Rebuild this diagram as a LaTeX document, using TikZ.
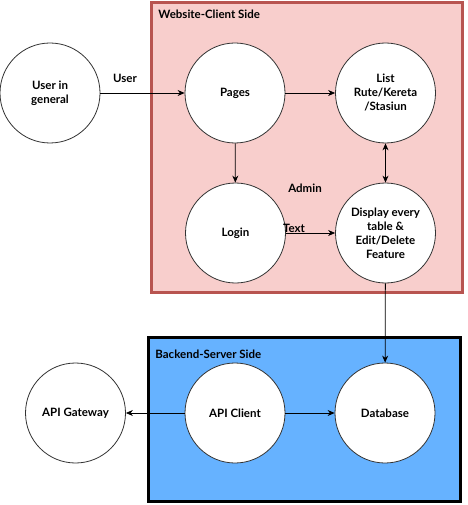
\documentclass[tikz,border=0pt]{standalone}
\usepackage{fontspec}
\setmainfont{Lato}
\usepackage{xcolor}
\usetikzlibrary{arrows.meta}
\definecolor{clientfill}{HTML}{F8CECC}
\definecolor{clientline}{HTML}{B85450}
\definecolor{serverfill}{HTML}{66B2FF}

\begin{document}
\begin{tikzpicture}[x=1pt, y=-1pt, line width=0.8pt, >={Stealth[length=7pt,width=6pt]},
    proc/.style={circle, draw=black!80, fill=white, minimum size=100pt, inner sep=1pt,
                 align=center, font=\bfseries\fontsize{11.5}{14}\selectfont},
    lbl/.style={font=\bfseries\fontsize{11.5}{14}\selectfont, inner sep=0pt}]
    \useasboundingbox (0,0) rectangle (467,505);

    % the two sides
    \draw[line width=3pt, draw=clientline, fill=clientfill] (151.5,2.5) rectangle (462,292.5);
    \draw[line width=3pt, draw=black, fill=serverfill] (148.5,337.5) rectangle (460,501.5);
    \node[lbl, anchor=west](client) at (158,14) {Website-Client Side};
    \node[lbl, anchor=west](server) at (155,354) {Backend-Server Side};

    \node[proc](user) at ( 50, 93) {User in\\general};
    \node[proc](pages) at (235, 93) {Pages};
    \node[proc](list) at (385.5, 93) {List\\Rute/Kereta\\/Stasiun};
    \node[proc](login) at (235.5,233) {Login};
    \node[proc](display) at (385.5,233) {Display every\\table \&\\Edit/Delete\\Feature};
    \node[proc](gateway) at ( 75.5,413) {API Gateway};
    \node[proc](apiclient) at (235,413) {API Client};
    \node[proc](db) at (385,413) {Database};

    \draw[->] (user) edge (pages)
              (pages) edge (list)
              (pages) edge (login)
              (login) edge (display)
              (display) edge (db)
              (apiclient) edge (gateway)
              (apiclient) edge (db);
    \draw[<->] (list) edge (display);

    \node[lbl](userlbl) at (125,78) {User};
    \node[lbl](adminlbl) at (305,188) {Admin};
    \node[lbl](textlbl) at (294,228) {Text};
  \end{tikzpicture}
\end{document}
